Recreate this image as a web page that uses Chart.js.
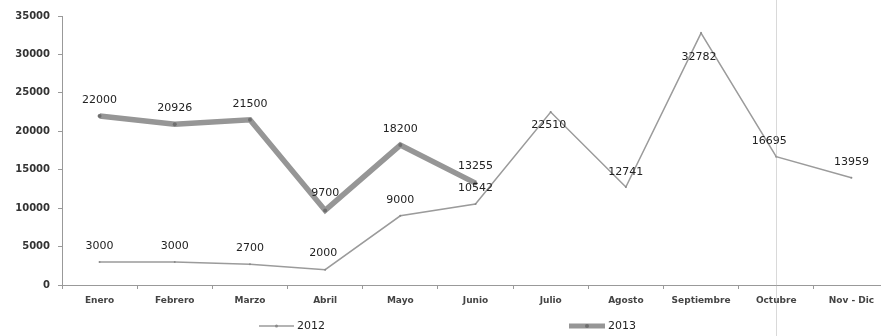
<!DOCTYPE html>
<html>
<head>
<meta charset="utf-8">
<script src="https://cdn.jsdelivr.net/npm/chart.js@4/dist/chart.umd.min.js"></script>
<style>
html,body{margin:0;padding:0;background:#fff;overflow:hidden;}
#wrap{width:881px;height:336px;position:relative;overflow:hidden;}
</style>
</head>
<body>
<div id="wrap"><canvas id="c" width="893" height="336"></canvas></div>
<script>
const categories = ["Enero","Febrero","Marzo","Abril","Mayo","Junio","Julio","Agosto","Septiembre","Octubre","Nov - Dic"];
const series2012 = [3000,3000,2700,2000,9000,10542,22510,12741,32782,16695,13959];
const series2013 = [22000,20926,21500,9700,18200,13255,null,null,null,null,null];
const yTicks = [0,5000,10000,15000,20000,25000,30000,35000];

// label placement (pixels relative to point): negative = above
const labelShift2012 = [-16,-16,-16,-16,-16,-16,13,-15,24,-16,-16];
const labelDx2012 = [0,0,0,-2,0,0,-2,0,-2,-7,0];
const labelShift2013 = [-16,-16,-16,-17,-16,-17,0,0,0,0,0];

const FONT = "'DejaVu Sans', sans-serif";

const labelPlugin = {
  id: 'pointLabels',
  afterDatasetsDraw(chart) {
    const ctx = chart.ctx;
    ctx.save();
    ctx.font = "11px " + FONT;
    ctx.fillStyle = "#222";
    ctx.textAlign = "center";
    ctx.textBaseline = "middle";
    chart.data.datasets.forEach((ds, di) => {
      const meta = chart.getDatasetMeta(di);
      const shifts = di === 0 ? labelShift2012 : labelShift2013;
      const dxs = di === 0 ? labelDx2012 : null;
      meta.data.forEach((pt, i) => {
        const v = ds.data[i];
        if (v === null || v === undefined) return;
        ctx.fillText(String(v), pt.x + (dxs ? dxs[i] : 0), pt.y + shifts[i]);
      });
    });
    ctx.restore();
  }
};

const legendPlugin = {
  id: 'customLegend',
  afterDraw(chart) {
    const ctx = chart.ctx;
    ctx.save();
    const y = 326;
    const items = [{x0: 259, x1: 294}, {x0: 569, x1: 605}];
    chart.data.datasets.forEach((ds, di) => {
      const it = items[di];
      ctx.strokeStyle = ds.borderColor;
      ctx.lineWidth = di === 0 ? 1.5 : 5;
      ctx.beginPath();
      ctx.moveTo(it.x0, y);
      ctx.lineTo(it.x1, y);
      ctx.stroke();
      ctx.fillStyle = ds.pointBackgroundColor;
      ctx.beginPath();
      ctx.arc((it.x0 + it.x1) / 2, y, di === 0 ? 1.5 : 2, 0, Math.PI * 2);
      ctx.fill();
      ctx.font = "11px " + FONT;
      ctx.fillStyle = "#222";
      ctx.textAlign = "left";
      ctx.textBaseline = "middle";
      ctx.fillText(ds.label, it.x1 + 3, y);
    });
    // faint scan line seen in the reference
    const xs = chart.scales.x;
    const lx = Math.round(xs.getPixelForValue(9)) + 0.5;
    ctx.strokeStyle = "rgba(170,170,170,0.45)";
    ctx.lineWidth = 1;
    ctx.beginPath();
    ctx.moveTo(lx, 0);
    ctx.lineTo(lx, 336);
    ctx.stroke();
    ctx.restore();
  }
};

new Chart(document.getElementById('c'), {
  type: 'line',
  data: {
    labels: categories,
    datasets: [
      {
        label: '2012',
        data: series2012,
        borderColor: '#9b9b9b',
        backgroundColor: '#9b9b9b',
        pointBackgroundColor: '#8a8a8a',
        pointBorderColor: '#8a8a8a',
        borderWidth: 1.5,
        pointRadius: 1,
        pointBorderWidth: 0,
        tension: 0
      },
      {
        label: '2013',
        data: series2013,
        borderColor: '#969696',
        backgroundColor: '#969696',
        pointBackgroundColor: '#6f6f6f',
        pointBorderColor: '#6f6f6f',
        borderWidth: 5.5,
        pointRadius: 2,
        pointBorderWidth: 0,
        tension: 0,
        spanGaps: false
      }
    ]
  },
  options: {
    responsive: false,
    animation: false,
    devicePixelRatio: 1,
    layout: { padding: { left: 0, right: -8, top: 16, bottom: 23 } },
    plugins: {
      legend: { display: false },
      tooltip: { enabled: false }
    },
    scales: {
      x: {
        offset: true,
        grid: { display: true, drawOnChartArea: false, tickLength: 4, color: '#999', offset: true },
        border: { color: '#999', width: 1 },
        ticks: { font: { family: FONT, size: 9, weight: 'bold' }, color: '#444', padding: 6, maxRotation: 0, autoSkip: false },
        afterFit(s) { s.height = 28; }
      },
      y: {
        min: 0,
        max: 35000,
        afterBuildTicks(s) { s.ticks = yTicks.map(v => ({ value: v })); },
        grid: { display: true, drawOnChartArea: false, tickLength: 4, color: '#999' },
        border: { color: '#999', width: 1 },
        ticks: { font: { family: FONT, size: 10, weight: 'bold' }, color: '#333', padding: 8, callback: v => String(v) },
        afterFit(s) { s.width = 62; }
      }
    }
  },
  plugins: [labelPlugin, legendPlugin]
});
</script>
</body>
</html>
